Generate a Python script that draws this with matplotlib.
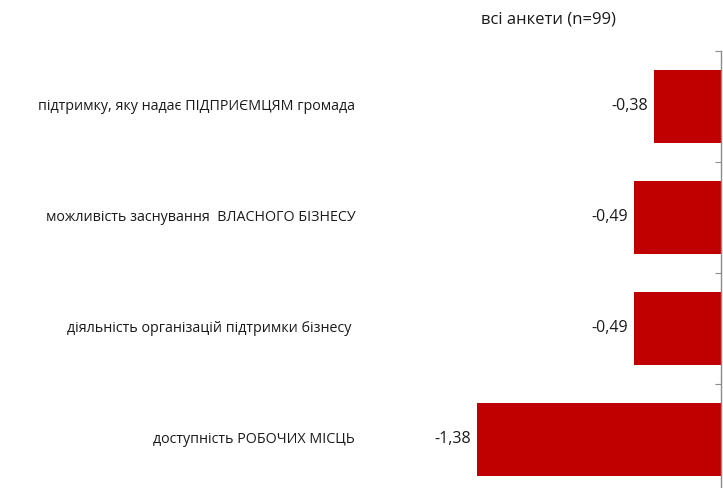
import numpy as np
import matplotlib.pyplot as plt

# Оцінки по категоріях (всі анкети)
categories = [
    "підтримку, яку надає ПІДПРИЄМЦЯМ громада",
    "можливість заснування  ВЛАСНОГО БІЗНЕСУ",
    "діяльність організацій підтримки бізнесу ",
    "доступність РОБОЧИХ МІСЦЬ",
]
values = [-0.38, -0.49, -0.49, -1.38]
value_labels = ["-0,38", "-0,49", "-0,49", "-1,38"]
title = "всі анкети (n=99)"

plt.rcParams["font.family"] = ["Open Sans", "DejaVu Sans"]

fig = plt.figure(figsize=(7.23, 4.88), dpi=100)
# вісь нуля біля правого краю, нижня частина виходить за межі рисунка
ax = fig.add_axes([0.0194, -0.0143, 0.9778, 0.9098])

y = np.arange(len(categories))
ax.barh(y, values, height=0.66, color="#C00000", zorder=2)

ax.set_xlim(-4.0, 0.0)
ax.set_ylim(len(categories) - 0.5, -0.5)

for s in ["left", "top", "bottom"]:
    ax.spines[s].set_visible(False)
ax.spines["right"].set_color("#8c8c8c")
ax.spines["right"].set_linewidth(1.0)
ax.set_xticks([])
ax.yaxis.tick_right()
ax.set_yticks(np.arange(len(categories) + 1) - 0.5)
ax.set_yticklabels([])
ax.tick_params(axis="y", direction="in", length=4, color="#8c8c8c")

# підписи категорій ліворуч
label_x = -2.07
for yi, cat in zip(y, categories):
    ax.text(label_x, yi, cat, ha="right", va="center", fontsize=10.3,
            color="#1a1a1a")

# значення біля початку стовпців
for yi, v, lab in zip(y, values, value_labels):
    ax.text(v - 0.035, yi, lab, ha="right", va="center", fontsize=11.5,
            color="#1a1a1a")

fig.text(548 / 723, 1 - 19 / 488, title, ha="center", va="center",
         fontsize=12, color="#1a1a1a")

fig.savefig("out.png", dpi=100, facecolor="white")
